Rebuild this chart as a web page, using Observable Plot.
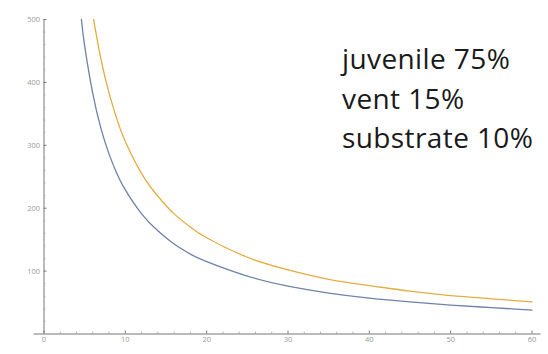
<!DOCTYPE html>
<html>
<head>
<meta charset="utf-8">
<script src="https://cdn.jsdelivr.net/npm/d3@7"></script>
<script src="https://cdn.jsdelivr.net/npm/@observablehq/plot@0.6"></script>
<style>
  html, body { margin: 0; padding: 0; background: #fff; }
  #chart svg { display: block; }
  #chart svg g[aria-label="text"] text { letter-spacing: 0.4px; }
</style>
</head>
<body>
<div id="chart"></div>
<script>
// Lower (blue) curve
const blueX = [4.6, 5, 6, 7, 8, 9, 10, 12, 14, 16, 18, 20, 25, 30, 35, 40, 45, 50, 55, 60];
const blueY = [500, 458, 382, 327, 286, 254, 229, 191, 164, 143, 127, 115, 92, 76, 65, 57, 51, 46, 42, 38];
// Upper (orange) curve
const orangeX = [6.1, 7, 8, 9, 10, 12, 14, 16, 18, 20, 25, 30, 35, 40, 45, 50, 55, 60];
const orangeY = [500, 437, 383, 340, 306, 255, 219, 191, 170, 153, 122, 102, 87, 77, 68, 61, 56, 51];

const xMajor = [0, 10, 20, 30, 40, 50, 60];
const xMinor = [2, 4, 6, 8, 12, 14, 16, 18, 22, 24, 26, 28, 32, 34, 36, 38, 42, 44, 46, 48, 52, 54, 56, 58];
const yMajor = [100, 200, 300, 400, 500];
const yMinor = [20, 40, 60, 80, 120, 140, 160, 180, 220, 240, 260, 280, 320, 340, 360, 380, 420, 440, 460, 480];

const annotation = ["juvenile 75%", "vent 15%", "substrate 10%"];

const blue = blueX.map((x, i) => ({x, y: blueY[i]}));
const orange = orangeX.map((x, i) => ({x, y: orangeY[i]}));

const axisColor = "#777";
const labelColor = "#999";

const chart = Plot.plot({
  width: 548,
  height: 354,
  marginLeft: 43.5,
  marginRight: 16.5,
  marginTop: 19,
  marginBottom: 20.5,
  style: {background: "#fff", fontFamily: "Open Sans, sans-serif"},
  x: {domain: [0, 60], axis: null},
  y: {domain: [0, 500], axis: null},
  marks: [
    // axis lines
    Plot.ruleY([0], {stroke: axisColor, strokeWidth: 1, insetLeft: -10, insetRight: -9}),
    Plot.ruleX([0], {stroke: axisColor, strokeWidth: 1}),
    // inward tick marks
    Plot.axisX(xMajor, {anchor: "bottom", tickSize: -3, fill: "none", stroke: axisColor}),
    Plot.axisX(xMinor, {anchor: "bottom", tickSize: -1.8, fill: "none", stroke: "#aaa"}),
    Plot.axisY(yMajor, {anchor: "left", tickSize: -3, fill: "none", stroke: axisColor}),
    Plot.axisY(yMinor, {anchor: "left", tickSize: -1.8, fill: "none", stroke: "#aaa"}),
    // tick labels
    Plot.axisX(xMajor, {anchor: "bottom", tickSize: 0, tickPadding: 3, fill: labelColor, fontSize: 7.5, label: null}),
    Plot.axisY(yMajor, {anchor: "left", tickSize: 0, tickPadding: 4, fill: labelColor, fontSize: 7.5, label: null}),
    // curves
    Plot.line(blue, {x: "x", y: "y", curve: "natural", stroke: "#6f82ab", strokeWidth: 1.3}),
    Plot.line(orange, {x: "x", y: "y", curve: "natural", stroke: "#e3ad3f", strokeWidth: 1.3}),
    // annotation
    Plot.text([annotation.join("\n")], {
      frameAnchor: "top-left",
      textAnchor: "start",
      lineAnchor: "top",
      dx: 298,
      dy: 22,
      lineHeight: 1.4,
      fontSize: 28,
      fill: "#1a1a1a",
      fontFamily: "Open Sans, sans-serif"
    })
  ]
});
document.getElementById("chart").appendChild(chart);
</script>
</body>
</html>
